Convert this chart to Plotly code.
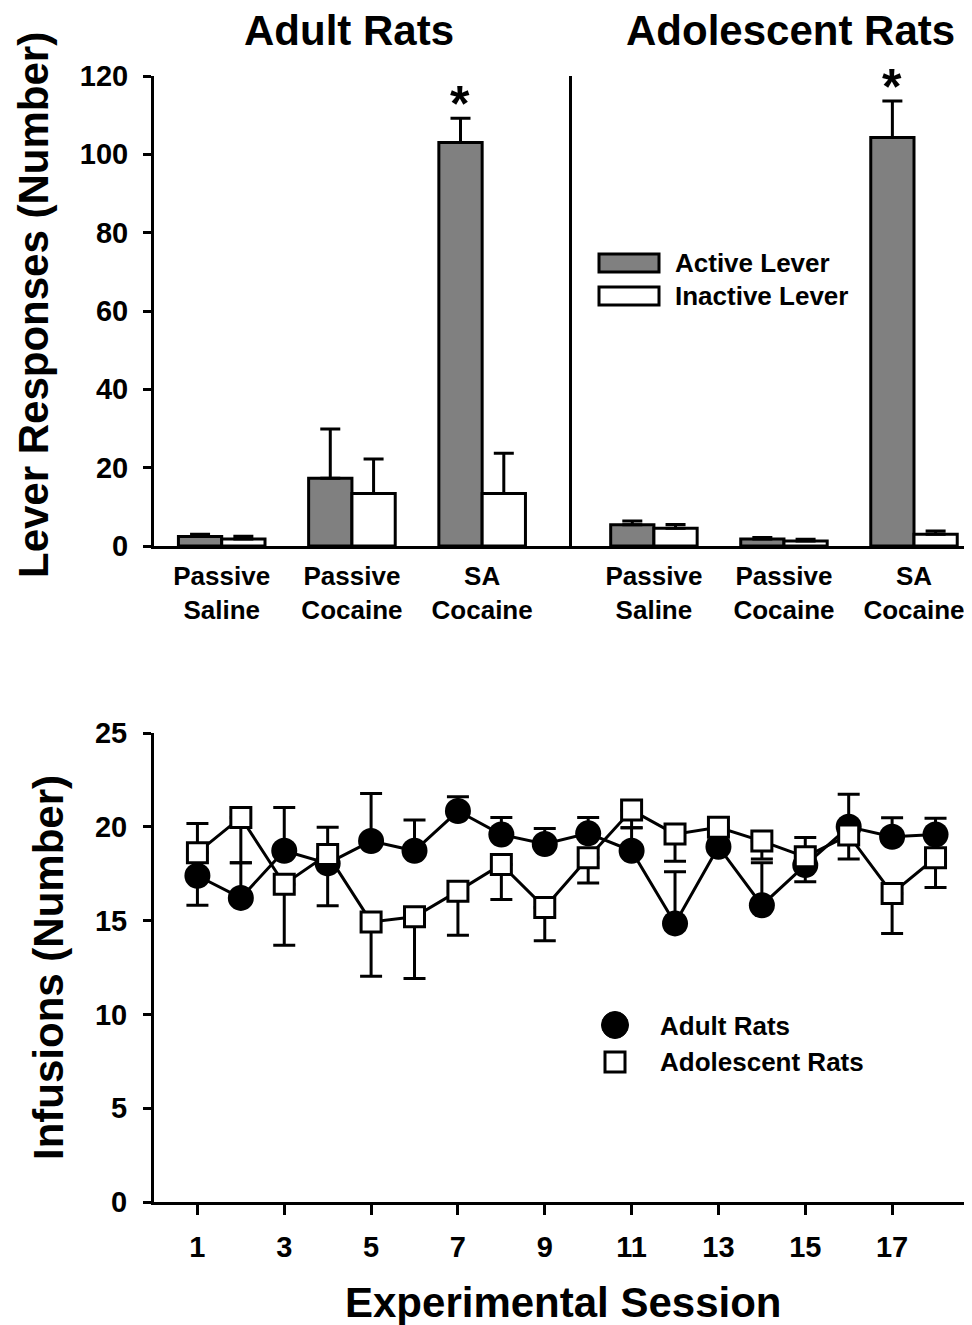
import plotly.graph_objects as go

# ---------------- data ----------------
groups = ["Passive<br>Saline", "Passive<br>Cocaine", "SA<br>Cocaine"]

adult_active = [2.4, 17.3, 103.0]
adult_active_err = [0.6, 12.6, 6.2]
adult_inactive = [1.8, 13.4, 13.4]
adult_inactive_err = [0.7, 8.8, 10.3]

adol_active = [5.4, 1.8, 104.3]
adol_active_err = [1.0, 0.4, 9.3]
adol_inactive = [4.5, 1.3, 3.0]
adol_inactive_err = [1.0, 0.4, 0.8]

sessions = list(range(1, 19))
adult_inf = [17.39, 16.21, 18.72, 18.05, 19.24, 18.72, 20.84, 19.59, 19.08,
             19.65, 18.72, 14.85, 18.94, 15.82, 17.96, 20.00, 19.47, 19.59]
adult_up = [0, 1.87, 2.31, 0, 2.54, 1.64, 0.76, 0.91, 0.83,
            0.85, 1.23, 2.75, 0.6, 2.26, 0, 1.74, 1.01, 0.86]
adult_down = [1.57, 0, 0, 2.26, 0, 0, 0, 0, 0,
              0, 0, 0, 0, 0, 0.89, 0, 0, 0]

adol_inf = [18.62, 20.50, 16.94, 18.53, 14.93, 15.20, 16.57, 17.99, 15.70,
            18.35, 20.89, 19.61, 19.97, 19.24, 18.40, 19.56, 16.45, 18.35]
adol_up = [1.56, 0, 0, 1.44, 0, 0, 0, 0, 0,
           0, 0, 0, 0, 0, 1.03, 0, 0, 0]
adol_down = [0, 2.42, 3.25, 0, 2.90, 3.29, 2.35, 1.86, 1.78,
             1.34, 0.94, 1.44, 0.7, 0.96, 0, 1.28, 2.14, 1.58]

x_ticks = [1, 3, 5, 7, 9, 11, 13, 15, 17]

# ---------------- style ----------------
# the page body adds an 8 px offset; the figure is sized so that its
# content lands on the intended window pixels
OFF = 8
W, H = 972 - OFF, 1325 - OFF
FONT = "Liberation Sans, Arial, sans-serif"
GRAY = "#808080"


def px(x):
    return (x - OFF) / W


def py(y):
    return 1 - (y - OFF) / H


def bfont(size):
    return dict(family=FONT, size=size, color="black", weight="bold")


fig = go.Figure()


def add_bars(vals, errs, color, xa, ya):
    fig.add_trace(go.Bar(
        x=groups, y=vals, xaxis=xa, yaxis=ya,
        marker=dict(color=color, line=dict(color="black", width=3)),
        error_y=dict(type="data", array=errs, arrayminus=[0] * len(errs),
                     symmetric=False, color="black", thickness=3, width=10),
        showlegend=False,
    ))


add_bars(adult_active, adult_active_err, GRAY, "x", "y")
add_bars(adult_inactive, adult_inactive_err, "white", "x", "y")
add_bars(adol_active, adol_active_err, GRAY, "x2", "y2")
add_bars(adol_inactive, adol_inactive_err, "white", "x2", "y2")

fig.add_trace(go.Scatter(
    x=sessions, y=adult_inf, xaxis="x3", yaxis="y3", mode="lines+markers",
    line=dict(color="black", width=3),
    marker=dict(symbol="circle", size=26, color="black"),
    error_y=dict(type="data", array=adult_up, arrayminus=adult_down,
                 symmetric=False, color="black", thickness=3, width=11),
    showlegend=False,
))
fig.add_trace(go.Scatter(
    x=sessions, y=adol_inf, xaxis="x3", yaxis="y3", mode="lines+markers",
    line=dict(color="black", width=3),
    marker=dict(symbol="square", size=20, color="white",
                line=dict(color="black", width=3)),
    error_y=dict(type="data", array=adol_up, arrayminus=adol_down,
                 symmetric=False, color="black", thickness=3, width=11),
    showlegend=False,
))

annotations = []
# asterisks above SA cocaine active bars
annotations.append(dict(x=groups[2], y=adult_active[2] + adult_active_err[2],
                        xref="x", yref="y", text="*", showarrow=False,
                        xshift=-22, yshift=14, yanchor="middle",
                        font=bfont(50)))
annotations.append(dict(x=groups[2], y=adol_active[2] + adol_active_err[2],
                        xref="x2", yref="y2", text="*", showarrow=False,
                        xshift=-22, yshift=14, yanchor="middle",
                        font=bfont(50)))

# titles
annotations += [
    dict(x=px(349), y=py(31), text="Adult Rats", xref="paper", yref="paper",
         showarrow=False, font=bfont(42), xanchor="center", yanchor="middle"),
    dict(x=px(790), y=py(31), text="Adolescent Rats", xref="paper", yref="paper",
         showarrow=False, font=bfont(42), xanchor="center", yanchor="middle"),
    dict(x=px(33), y=py(305), text="Lever Responses (Number)", xref="paper",
         yref="paper", showarrow=False, font=bfont(42), textangle=-90,
         xanchor="center", yanchor="middle"),
    dict(x=px(48), y=py(968), text="Infusions (Number)", xref="paper",
         yref="paper", showarrow=False, font=bfont(42), textangle=-90,
         xanchor="center", yanchor="middle"),
    dict(x=px(563), y=py(1302), text="Experimental Session", xref="paper",
         yref="paper", showarrow=False, font=bfont(42),
         xanchor="center", yanchor="middle"),
]

# legend texts
annotations += [
    dict(x=px(673), y=py(263), text="Active Lever", xref="paper", yref="paper",
         showarrow=False, font=bfont(26), xanchor="left", yanchor="middle"),
    dict(x=px(673), y=py(296), text="Inactive Lever", xref="paper", yref="paper",
         showarrow=False, font=bfont(26), xanchor="left", yanchor="middle"),
    dict(x=px(658), y=py(1026), text="Adult Rats", xref="paper", yref="paper",
         showarrow=False, font=bfont(26), xanchor="left", yanchor="middle"),
    dict(x=px(658), y=py(1062), text="Adolescent Rats", xref="paper", yref="paper",
         showarrow=False, font=bfont(26), xanchor="left", yanchor="middle"),
]

shapes = [
    dict(type="rect", xref="paper", yref="paper", x0=px(599), x1=px(659),
         y0=py(272), y1=py(254), fillcolor=GRAY, line=dict(color="black", width=3)),
    dict(type="rect", xref="paper", yref="paper", x0=px(599), x1=px(659),
         y0=py(305), y1=py(287), fillcolor="white", line=dict(color="black", width=3)),
    dict(type="circle", xref="paper", yref="paper", x0=px(601.5), x1=px(628.5),
         y0=py(1038.5), y1=py(1011.5), fillcolor="black", line=dict(color="black", width=1)),
    dict(type="rect", xref="paper", yref="paper", x0=px(605), x1=px(625),
         y0=py(1072), y1=py(1052), fillcolor="white", line=dict(color="black", width=3)),
]

axis_common = dict(showline=True, linecolor="black", linewidth=3, showgrid=False,
                   zeroline=False, mirror=False, automargin=False)

fig.update_layout(
    width=W, height=H, margin=dict(l=0, r=0, t=0, b=0, pad=0, autoexpand=False),
    paper_bgcolor="white", plot_bgcolor="white",
    font=dict(family=FONT, color="black"),
    barmode="group", bargap=0.335, bargroupgap=0.0,
    annotations=annotations, shapes=shapes,
    xaxis=dict(domain=[px(154), px(572)], anchor="y", type="category",
               range=[-0.52, 2.69], ticks="", tickfont=bfont(26),
               ticklabelstandoff=5, **axis_common),
    yaxis=dict(domain=[py(546), py(76)], anchor="x", range=[0, 120],
               tickvals=[0, 20, 40, 60, 80, 100, 120], ticks="outside",
               ticklen=8, tickwidth=3, tickcolor="black", tickfont=bfont(29),
               ticklabelstandoff=9, **axis_common),
    xaxis2=dict(domain=[px(572), 1.0], anchor="y2", type="category",
                range=[-0.63, 2.446], ticks="", tickfont=bfont(26),
                ticklabelstandoff=5, **axis_common),
    yaxis2=dict(domain=[py(546), py(76)], anchor="x2", range=[0, 120],
                ticks="", showticklabels=False, **axis_common),
    xaxis3=dict(domain=[px(154), 1.0], anchor="y3", range=[0, 18.84],
                tickvals=x_ticks, ticks="outside", ticklen=10, tickwidth=3,
                tickcolor="black", tickfont=bfont(29), ticklabelstandoff=7,
                **axis_common),
    yaxis3=dict(domain=[py(1202), py(733)], anchor="x3", range=[0, 25],
                tickvals=[0, 5, 10, 15, 20, 25], ticks="outside", ticklen=8,
                tickwidth=3, tickcolor="black", tickfont=bfont(29),
                ticklabelstandoff=10, **axis_common),
)

fig.write_html("out.html")
